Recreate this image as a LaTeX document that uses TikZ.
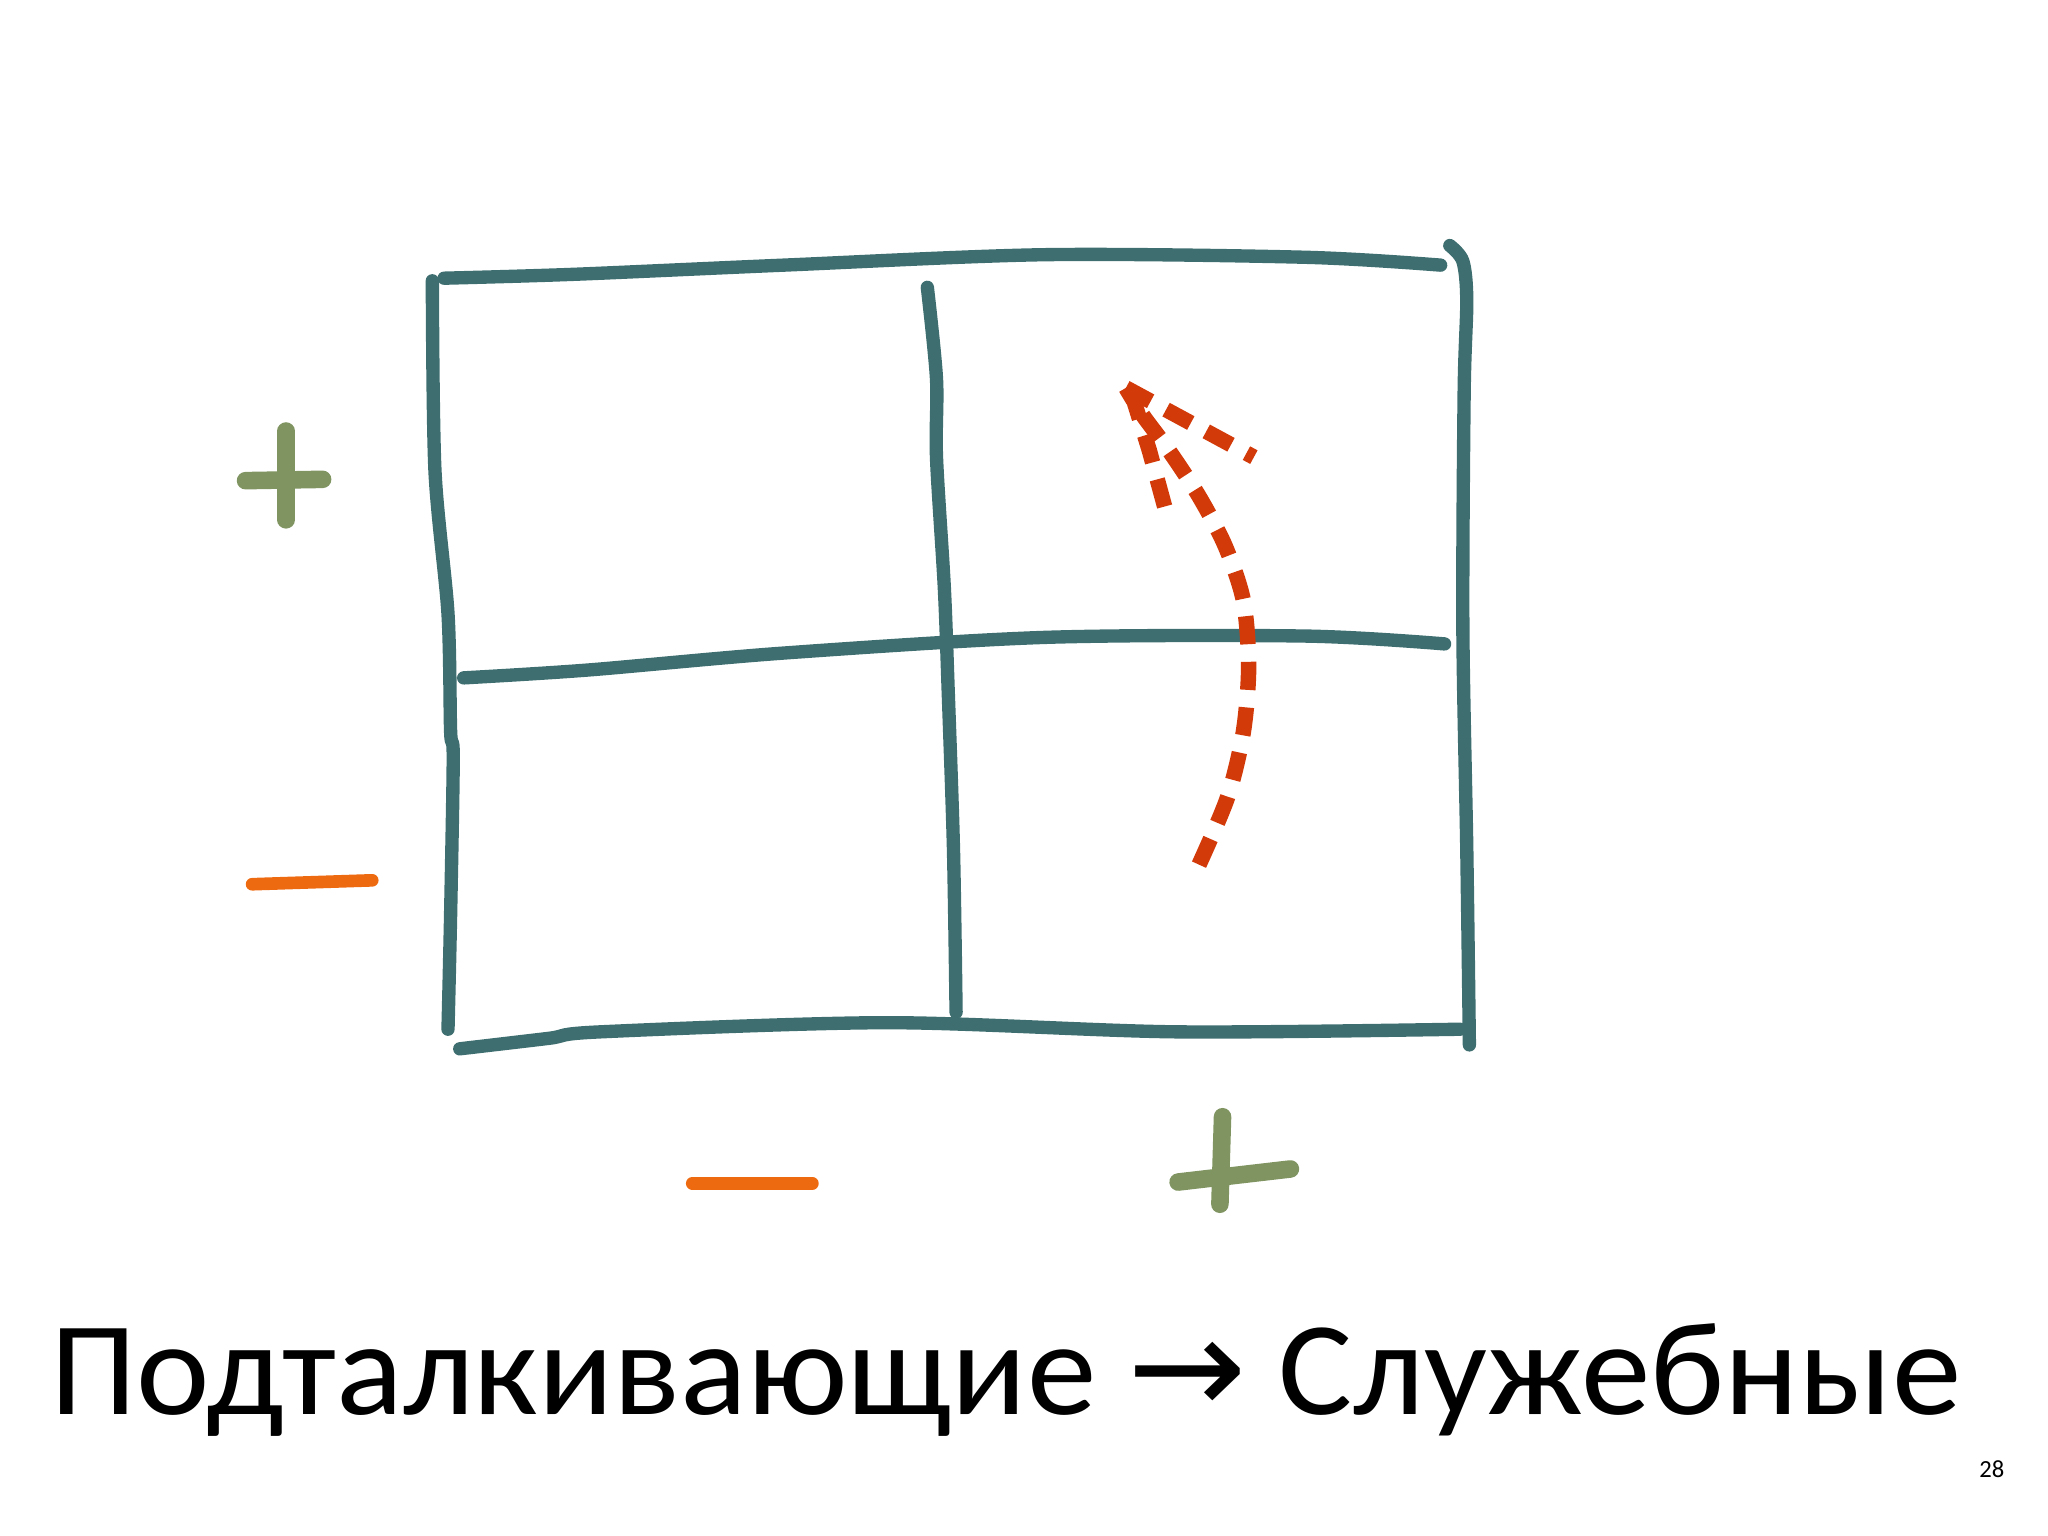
\documentclass[tikz,border=0pt]{standalone}
\usepackage{fontspec}
\setmainfont{Carlito}
\newfontfamily\arrowfont{DejaVu Sans}
\definecolor{teal}{HTML}{3F6E70}
\definecolor{plusgreen}{HTML}{7F9460}
\definecolor{minusorange}{HTML}{EE6A10}
\definecolor{arrowred}{HTML}{D33A0A}
\begin{document}
\begin{tikzpicture}[x=0.01306cm,y=-0.01306cm,
  gridline/.style={draw=teal,line width=3.8pt,line cap=round,line join=round},
  plusline/.style={draw=plusgreen,line width=5pt,line cap=round},
  minusline/.style={draw=minusorange,line width=3.6pt,line cap=round},
  redline/.style={draw=arrowred,line width=4.4pt,dash pattern=on 8pt off 5pt}]
\useasboundingbox (0,0) rectangle (1568,1176);
% outer frame
\draw[gridline] plot[smooth] coordinates {(340,213) (440,210) (600,203) (800,195) (1000,197) (1103,203)};
\draw[gridline] plot[smooth] coordinates {(1110,188) (1120,200) (1123,230) (1121,300) (1120,480) (1123,650) (1125,800)};
\draw[gridline] plot[smooth] coordinates {(331,215) (333,360) (343,470) (345,560) (347,580) (345,700) (343,788)};
\draw[gridline] plot[smooth] coordinates {(352,803) (420,795) (460,790) (680,783) (900,790) (1118,788)};
% inner cross
\draw[gridline] plot[smooth] coordinates {(710,220) (717,290) (717,350) (723,450) (726,530) (730,650) (732,775)};
\draw[gridline] plot[smooth] coordinates {(355,519) (450,513) (600,500) (800,488) (1000,487) (1106,493)};
% red dashed arrow
\draw[redline] plot[smooth] coordinates {(918,662) (940,610) (952,560) (956,510) (952,460) (938,418) (918,380) (895,345) (875,318) (862,297)};
\draw[redline] (862,297) -- (960,350);
\draw[redline] (866,300) -- (880,345) -- (895,400);
% plus and minus marks
\draw[plusline] (219,330) -- (219,398);
\draw[plusline] (188,368) -- (247,367);
\draw[plusline] (936,855) -- (934,922);
\draw[plusline] (902,905) -- (988,895);
\draw[minusline] (193,677) -- (285,674);
\draw[minusline] (530,906) -- (622,906);
% texts
\node[anchor=base west,inner sep=0pt,xscale=1.042,font=\fontsize{38}{40}\selectfont] (title) at (38,1083) {Подталкивающие {\arrowfont\fontsize{39}{42}\selectfont →} Служебные};
\node[anchor=base,inner sep=0pt,font=\fontsize{7}{8}\selectfont] (page) at (1525,1131) {28};
\end{tikzpicture}
\end{document}
